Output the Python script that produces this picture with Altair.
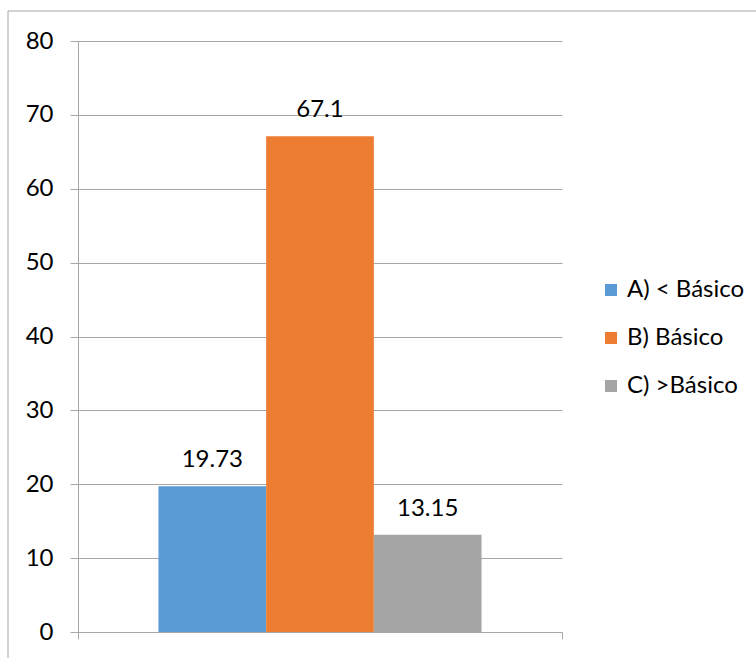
import altair as alt
import pandas as pd

# Niveles de logro y porcentaje de estudiantes en cada uno
categorias = ["A) < Básico", "B) Básico", "C) >Básico"]
valores = [19.73, 67.1, 13.15]
colores = ["#5B9BD5", "#ED7D31", "#A5A5A5"]
ticks_y = [0, 10, 20, 30, 40, 50, 60, 70, 80]

FUENTE = "Lato"
TAM = 24
GRIS = "#a6a6a6"

df = pd.DataFrame({"nivel": categorias, "porcentaje": valores})
bordes = pd.DataFrame({"borde": [0, 1]})
marco = pd.DataFrame({"k": [0]})

x_barras = alt.X(
    "nivel:N",
    sort=categorias,
    scale=alt.Scale(paddingInner=0, paddingOuter=0.747),
    axis=None,
)
y_valor = alt.Y(
    "porcentaje:Q",
    scale=alt.Scale(domain=[0, 80], nice=False),
    axis=alt.Axis(
        values=ticks_y,
        title=None,
        grid=True,
        gridColor=GRIS,
        domainColor=GRIS,
        tickColor=GRIS,
        tickSize=8,
        labelPadding=17,
        labelFont=FUENTE,
        labelFontSize=TAM,
        labelColor="black",
    ),
)

barras = alt.Chart(df).mark_bar().encode(
    x=x_barras,
    y=y_valor,
    color=alt.Color(
        "nivel:N",
        sort=categorias,
        scale=alt.Scale(domain=categorias, range=colores),
        legend=alt.Legend(
            title=None,
            orient="none",
            legendX=521,
            legendY=237,
            symbolType="square",
            symbolSize=144,
            symbolStrokeWidth=0,
            symbolOpacity=1,
            labelFont=FUENTE,
            labelFontSize=TAM,
            labelColor="black",
            labelOffset=4,
            rowPadding=24,
        ),
    ),
)

etiquetas = alt.Chart(df).mark_text(
    dy=-19, baseline="alphabetic", font=FUENTE, fontSize=TAM, color="black"
).encode(
    x=x_barras,
    y=alt.Y("porcentaje:Q", scale=alt.Scale(domain=[0, 80], nice=False)),
    text=alt.Text("porcentaje:Q"),
)

# Eje horizontal: línea base con marcas en los extremos del área de trazado
eje_x = alt.Chart(bordes).mark_point(opacity=0).encode(
    x=alt.X(
        "borde:Q",
        scale=alt.Scale(domain=[0, 1], nice=False, zero=False),
        axis=alt.Axis(
            values=[0, 1],
            labels=False,
            title=None,
            grid=False,
            tickSize=7,
            tickColor=GRIS,
            domainColor=GRIS,
        ),
    )
)

# Marco exterior del gráfico
borde_grafico = alt.Chart(marco).mark_rect(
    fill=None, stroke=GRIS, strokeWidth=1
).encode(
    x=alt.value(-70), x2=alt.value(720), y=alt.value(-30), y2=alt.value(700)
)

chart = (
    alt.layer(borde_grafico, alt.layer(barras, etiquetas), eje_x)
    .resolve_scale(x="independent")
    .properties(
        width=484,
        height=591,
        autosize=alt.AutoSizeParams(type="none"),
        padding={"left": 78, "top": 41, "right": 194, "bottom": 26},
        background="white",
    )
    .configure_view(stroke=None)
)

chart.save("out.html", embed_options={"renderer": "svg", "actions": False})
